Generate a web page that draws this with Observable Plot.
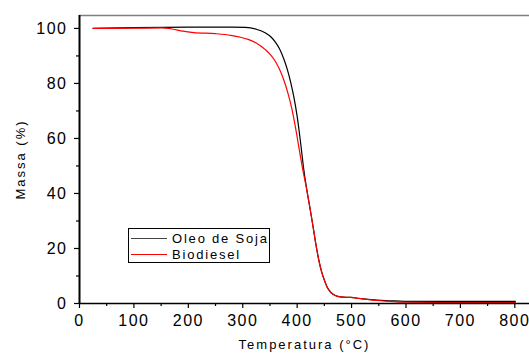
<!DOCTYPE html>
<html>
<head>
<meta charset="utf-8">
<script src="https://cdn.jsdelivr.net/npm/d3@7"></script>
<script src="https://cdn.jsdelivr.net/npm/@observablehq/plot@0.6"></script>
<style>
  html, body { margin: 0; padding: 0; background: #fff; }
  #wrap { position: relative; width: 529px; height: 356px; overflow: hidden; }
  #legend { position: absolute; left: 128px; top: 228px; width: 140px; height: 33px;
    border: 1px solid #000; background: #fff; font-family: "Liberation Sans", Arial, sans-serif;
    font-size: 13px; letter-spacing: 1.8px; color: #000; }
  .row { position: absolute; left: 2px; height: 16px; display: flex; align-items: center; }
  .sw { width: 36px; height: 0; border-top: 1.3px solid; margin-right: 5px; }
</style>
</head>
<body>
<div id="wrap"></div>
<script>
// Temperature (°C) and mass (%)
const soyTemp = [25, 100, 200, 280, 305, 325, 342, 352, 360, 368, 376, 382, 388, 394, 400, 406, 412, 418, 425, 430, 434, 440, 445, 450, 455, 462, 470, 480, 498, 520, 547, 570, 596, 650, 700, 750, 801];
const soyMass = [100, 100.3, 100.5, 100.5, 100.4, 99.7, 98.3, 96.9, 95, 92.4, 88.6, 85, 80.5, 75, 68, 59, 49, 41, 33, 27, 22, 15.6, 11.5, 8.5, 6, 4, 2.9, 2.4, 2.2, 1.7, 1.2, 1.0, 0.8, 0.8, 0.8, 0.8, 0.8];
const bioTemp = [25, 100, 150, 170, 190, 210, 250, 278, 296, 310, 324, 342, 352, 360, 368, 375, 383, 390, 396, 403, 410, 418, 425, 430, 434, 440, 445, 450, 455, 462, 470, 480, 498, 520, 547, 570, 596, 650, 700, 750, 801];
const bioMass = [100, 100.1, 100.2, 99.8, 99, 98.5, 98.1, 97.5, 96.8, 96, 94.8, 92.2, 90.2, 88, 85, 81.5, 76.5, 71, 65, 57, 49, 41, 33, 27, 22, 15.6, 11.5, 8.5, 6, 4, 2.9, 2.4, 2.2, 1.7, 1.1, 0.8, 0.5, 0.4, 0.3, 0.3, 0.3];
const seriesNames = ["Oleo de Soja", "Biodiesel"];
const seriesColors = ["#000000", "#ff0000"];
const xMajor = [0, 100, 200, 300, 400, 500, 600, 700, 800];
const xMinor = [50, 150, 250, 350, 450, 550, 650, 750];
const yMajor = [0, 20, 40, 60, 80, 100];
const yMinor = [10, 30, 50, 70, 90];
const xDomain = [0, 827];
const yDomain = [0, 104.7];

const data = [
  ...soyTemp.map((t, i) => ({ t, m: soyMass[i], s: seriesNames[0] })),
  ...bioTemp.map((t, i) => ({ t, m: bioMass[i], s: seriesNames[1] }))
];

const chart = Plot.plot({
  width: 529,
  height: 356,
  marginLeft: 79,
  marginTop: 15,
  marginBottom: 53,
  marginRight: 0,
  style: { fontFamily: "Liberation Sans, Arial, sans-serif", background: "#fff", overflow: "visible" },
  x: { domain: xDomain },
  y: { domain: yDomain },
  color: { domain: seriesNames, range: seriesColors },
  marks: [
    Plot.ruleY([yDomain[1]], { stroke: "#808080", strokeWidth: 1.5 }),
    Plot.line(data, { x: "t", y: "m", z: "s", stroke: "s", strokeWidth: 1.2, curve: "monotone-x" }),
    Plot.axisX({ ticks: xMinor, tickSize: 3, text: null, label: null, stroke: "#000", strokeWidth: 1.2 }),
    Plot.axisX({ ticks: xMajor, tickSize: 5, tickPadding: 6, tickFormat: d => d, fontSize: 16, label: "Temperatura (°C)", labelAnchor: "center", labelArrow: "none", labelOffset: 45, stroke: "#000", strokeWidth: 1.2, fill: "#000" }),
    Plot.axisY({ ticks: yMinor, tickSize: 3, text: null, label: null, stroke: "#000", strokeWidth: 1.2 }),
    Plot.axisY({ ticks: yMajor, tickSize: 5, tickPadding: 7, fontSize: 16, label: "Massa (%)", labelAnchor: "center", labelArrow: "none", labelOffset: 64, stroke: "#000", strokeWidth: 1.2, fill: "#000" }),
    Plot.ruleY([0], { stroke: "#000", strokeWidth: 1.5 }),
    Plot.ruleX([0], { stroke: "#000", strokeWidth: 2 })
  ]
});

// styling of axis text
chart.querySelectorAll("[aria-label='x-axis tick label'], [aria-label='y-axis tick label']").forEach(g => { g.setAttribute("font-size", "16"); g.setAttribute("letter-spacing", "1.5"); });
chart.querySelectorAll("[aria-label='x-axis label'], [aria-label='y-axis label']").forEach(g => { g.setAttribute("font-size", "13"); g.setAttribute("letter-spacing", "2"); });

const wrap = document.getElementById("wrap");
wrap.appendChild(chart);

const legend = document.createElement("div");
legend.id = "legend";
seriesNames.forEach((name, i) => {
  const row = document.createElement("div");
  row.className = "row";
  row.style.top = (1 + i * 16) + "px";
  const sw = document.createElement("span");
  sw.className = "sw";
  sw.style.borderTopColor = i === 0 ? "#444" : seriesColors[i];
  const lab = document.createElement("span");
  lab.textContent = name;
  row.appendChild(sw);
  row.appendChild(lab);
  legend.appendChild(row);
});
wrap.appendChild(legend);
</script>
</body>
</html>
